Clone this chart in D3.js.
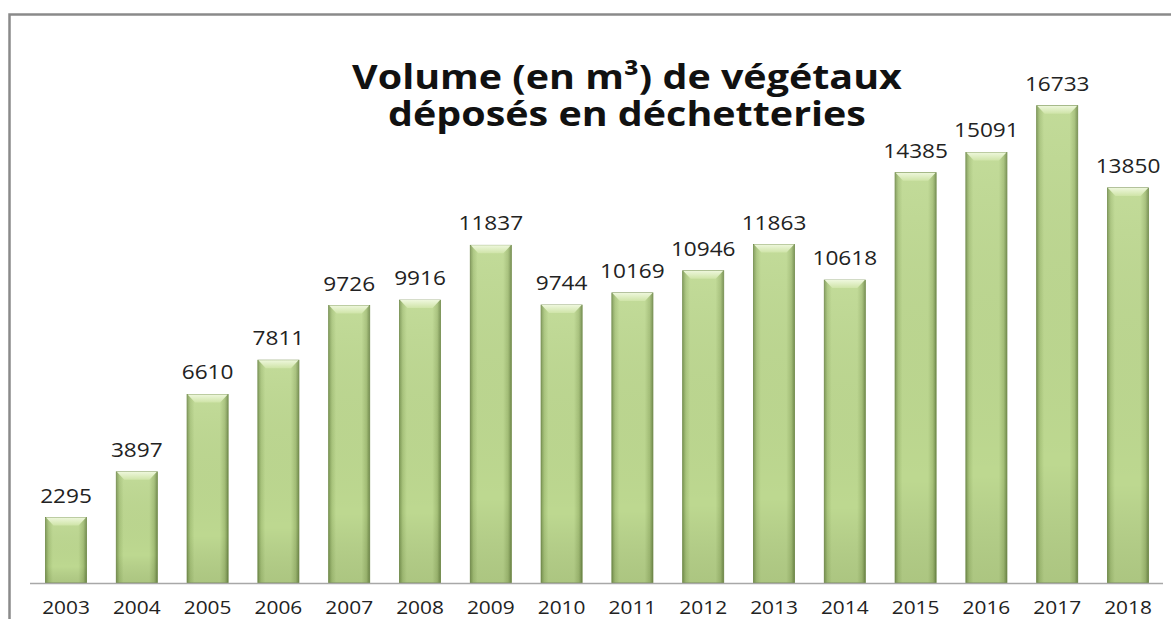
<!DOCTYPE html>
<html>
<head>
<meta charset="utf-8">
<script src="https://cdn.jsdelivr.net/npm/d3@7"></script>
<style>
  body { margin: 0; background: #fff; }
  svg { display: block; }
</style>
</head>
<body>
<div id="chart"></div>
<script>
// Data
let years = ["2003", "2004", "2005", "2006", "2007", "2008", "2009", "2010",
             "2011", "2012", "2013", "2014", "2015", "2016", "2017", "2018"];
let volumes = [2295, 3897, 6610, 7811, 9726, 9916, 11837, 9744,
               10169, 10946, 11863, 10618, 14385, 15091, 16733, 13850];
let titleLines = ["Volume (en m³) de végétaux", "déposés en déchetteries"];

let width = 1171, height = 619;
let stretch = 1.16; // the original text is drawn a bit wide
let svg = d3.select("#chart")
  .append("svg")
  .attr("width", width)
  .attr("height", height);

// Gradients for the bevelled bars
let defs = svg.append("defs");
let body = defs.append("linearGradient").attr("id", "barBody")
  .attr("x1", "0").attr("x2", "1").attr("y1", "0").attr("y2", "0");
[[0, "#7f9a57"], [0.08, "#a9c57c"], [0.18, "#bdd890"], [0.8, "#bdd890"],
 [0.92, "#a4bf77"], [1, "#738d4d"]].forEach(s => {
  body.append("stop").attr("offset", s[0]).attr("stop-color", s[1]);
});
let shade = defs.append("linearGradient").attr("id", "barShade")
  .attr("x1", "0").attr("x2", "0").attr("y1", "0").attr("y2", "1");
shade.append("stop").attr("offset", 0).attr("stop-color", "#fff").attr("stop-opacity", 0.08);
shade.append("stop").attr("offset", 0.75).attr("stop-color", "#000").attr("stop-opacity", 0);
shade.append("stop").attr("offset", 1).attr("stop-color", "#2f3f10").attr("stop-opacity", 0.12);
let bevel = defs.append("linearGradient").attr("id", "barTop")
  .attr("x1", "0").attr("x2", "0").attr("y1", "0").attr("y2", "1");
bevel.append("stop").attr("offset", 0).attr("stop-color", "#eef7dc");
bevel.append("stop").attr("offset", 1).attr("stop-color", "#cfe4a8");

// Frame
svg.append("path")
  .attr("d", "M9.5," + height + "V14.5H" + width)
  .attr("fill", "none")
  .attr("stroke", "#8a8a8a")
  .attr("stroke-width", 2.5);

// Scales
let x = d3.scaleBand()
  .domain(years)
  .range([30.6, 1163.4])
  .paddingInner(0.42)
  .paddingOuter(0.21);
let y = d3.scaleLinear()
  .domain([0, 18000])
  .range([583, 69.5]);

let data = years.map((yr, i) => ({year: yr, value: volumes[i]}));

// Bars
let bars = svg.append("g").selectAll("g")
  .data(data)
  .join("g")
  .attr("transform", d => "translate(" + x(d.year) + ",0)");
let bw = x.bandwidth();
bars.append("rect")
  .attr("y", d => y(d.value))
  .attr("width", bw)
  .attr("height", d => y(0) - y(d.value))
  .attr("fill", "url(#barBody)")
  .attr("stroke", "#6f8a47")
  .attr("stroke-width", 0.8);
bars.append("rect")
  .attr("y", d => y(d.value))
  .attr("width", bw)
  .attr("height", d => y(0) - y(d.value))
  .attr("fill", "url(#barShade)");
bars.append("path")
  .attr("d", d => {
    let t = y(d.value);
    return "M0.5," + t + "H" + (bw - 0.5) + "L" + (bw - 8) + "," + (t + 8) +
           "H8Z";
  })
  .attr("fill", "url(#barTop)");

// Value labels
svg.append("g").selectAll("text")
  .data(data)
  .join("text")
  .attr("transform", d => "translate(" + (x(d.year) + bw / 2) + "," +
        (y(d.value) - 15) + ") scale(" + stretch + ",1)")
  .attr("text-anchor", "middle")
  .attr("font-family", "'Open Sans', sans-serif")
  .attr("font-size", 19.5)
  .attr("fill", "#222")
  .text(d => d.value);

// Baseline and year labels
svg.append("line")
  .attr("x1", 30).attr("x2", 1163)
  .attr("y1", y(0) + 0.5).attr("y2", y(0) + 0.5)
  .attr("stroke", "#a8a8a8")
  .attr("stroke-width", 1.5);
let xAxis = svg.append("g")
  .attr("transform", "translate(0," + y(0) + ")")
  .call(d3.axisBottom(x).tickSize(0).tickPadding(0));
xAxis.select(".domain").remove();
xAxis.selectAll("text")
  .attr("dy", null)
  .attr("y", 31)
  .attr("transform", "scale(" + stretch + ",1)")
  .attr("font-family", "'Open Sans', sans-serif")
  .attr("font-size", 18)
  .attr("fill", "#222");
// keep the stretch centred on each tick
xAxis.selectAll(".tick")
  .attr("transform", d => "translate(" + (x(d) + bw / 2) + ",0)");

// Title
let title = svg.append("text")
  .attr("transform", "translate(627,0) scale(" + stretch + ",1)")
  .attr("text-anchor", "middle")
  .attr("font-family", "'Open Sans', sans-serif")
  .attr("font-weight", "bold")
  .attr("font-size", 34)
  .attr("fill", "#111");
title.selectAll("tspan")
  .data(titleLines)
  .join("tspan")
  .attr("x", 0)
  .attr("y", (d, i) => 89 + i * 37)
  .text(d => d);
</script>
</body>
</html>
